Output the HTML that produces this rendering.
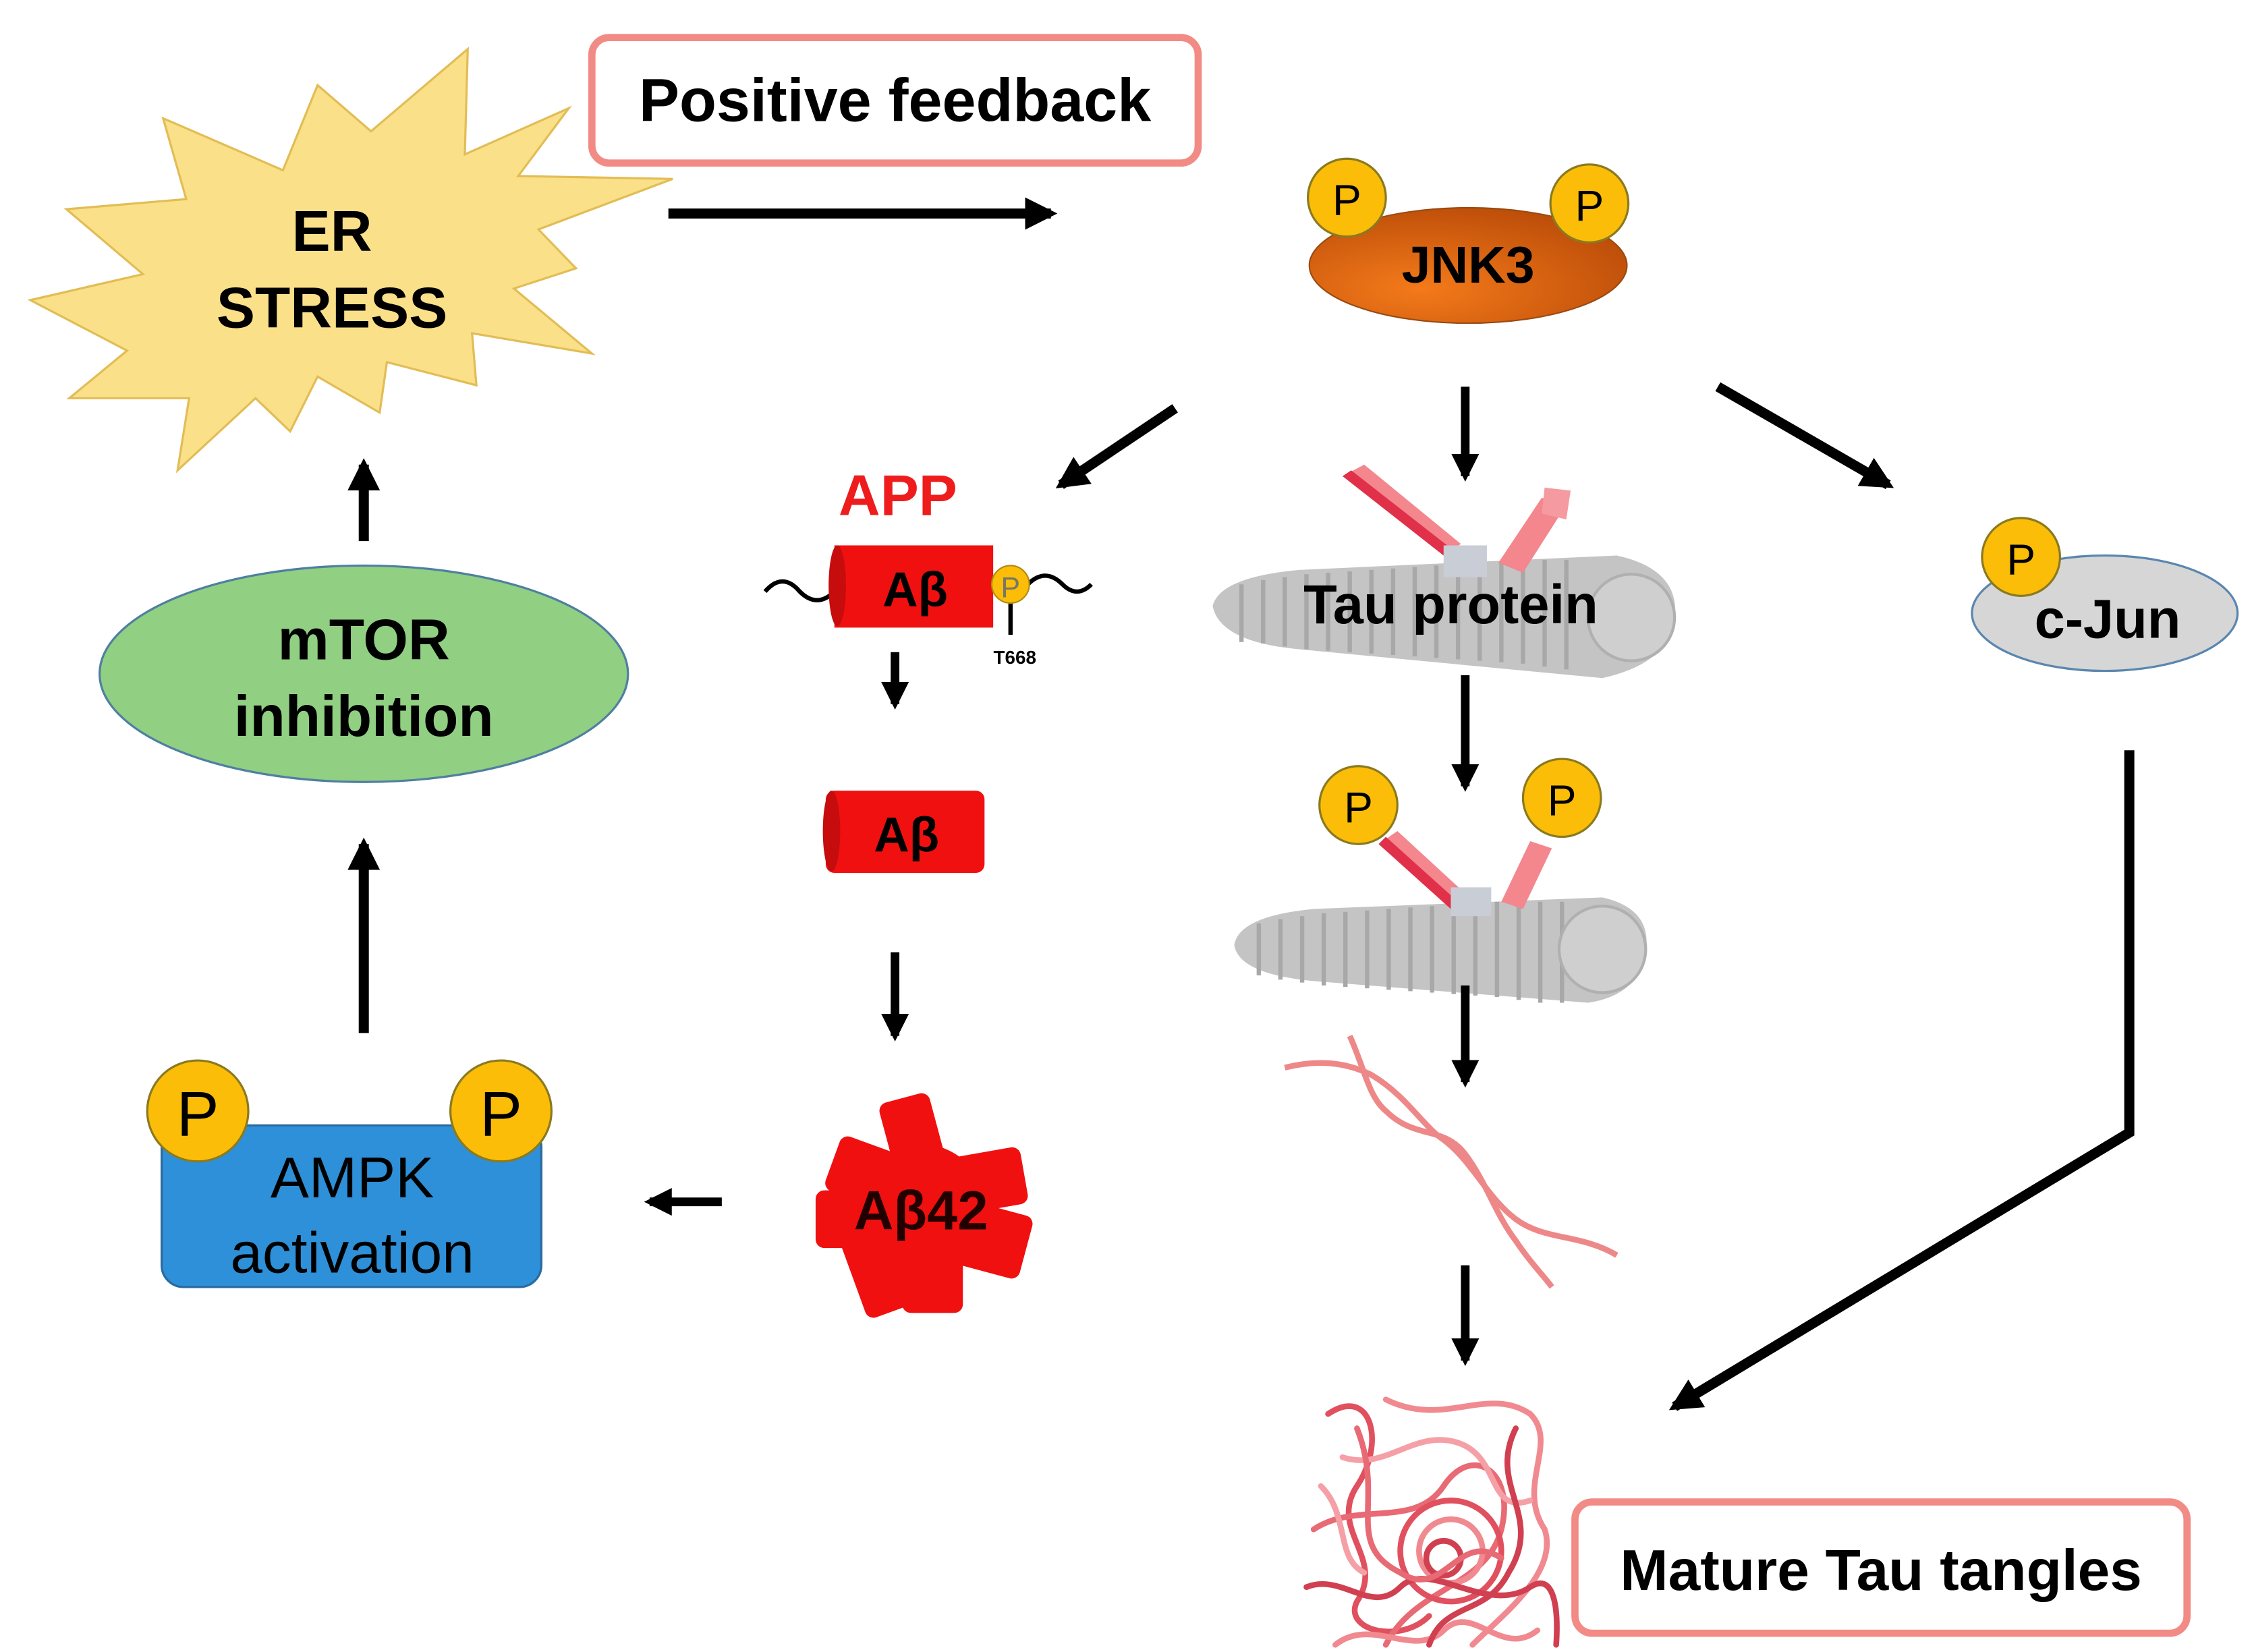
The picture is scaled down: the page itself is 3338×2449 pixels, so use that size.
<!DOCTYPE html>
<html><head><meta charset="utf-8"><style>html,body{margin:0;padding:0;background:#fff}svg{display:block}</style></head>
<body>
<svg width="3338" height="2449" viewBox="0 0 1560 1145" preserveAspectRatio="none" xmlns="http://www.w3.org/2000/svg" font-family="Liberation Sans, sans-serif">
<defs>
<marker id="ah" viewBox="0 0 10 10" refX="8" refY="5" markerWidth="3.2" markerHeight="3.2" orient="auto" markerUnits="strokeWidth"><path d="M0,0 L10,5 L0,10 z" fill="#000"/></marker>
<radialGradient id="jg" cx="0.35" cy="0.7" r="0.8"><stop offset="0" stop-color="#f47a1a"/><stop offset="1" stop-color="#b84a08"/></radialGradient>
</defs>
<rect width="1560" height="1145" fill="#fff"/>

<polygon points="220,59 257,91 324,34 322,107 394,75 359,122 466,124 373,159 399,186 356,200 410,245 327,231 330,267 268,251 263,286 220,261 201,299 177,276 123,326 131,276 48,276 88,243 21,208 99,190 46,145 129,138 113,82 196,118" fill="#fbe08a" stroke="#e2bd55" stroke-width="1.5"/>
<text x="230" y="174" font-size="40" font-weight="bold" text-anchor="middle">ER</text>
<text x="230" y="227" font-size="40" font-weight="bold" text-anchor="middle">STRESS</text>

<rect x="410" y="26" width="420" height="87" rx="12" fill="#fff" stroke="#f28b85" stroke-width="5"/>
<text x="620" y="84" font-size="42" font-weight="bold" text-anchor="middle">Positive feedback</text>
<line x1="463" y1="148" x2="728" y2="148" stroke="#000" stroke-width="7" marker-end="url(#ah)"/>

<ellipse cx="1017" cy="184" rx="110" ry="40" fill="url(#jg)" stroke="#9a4a10" stroke-width="1"/>
<text x="1017" y="196" font-size="36" font-weight="bold" text-anchor="middle">JNK3</text>
<ellipse cx="933" cy="137" rx="27" ry="27" fill="#fbbd08" stroke="#8a7a20" stroke-width="1.5"/>
<text x="933" y="149" font-size="30" text-anchor="middle">P</text>
<ellipse cx="1101" cy="141" rx="27" ry="27" fill="#fbbd08" stroke="#8a7a20" stroke-width="1.5"/>
<text x="1101" y="153" font-size="30" text-anchor="middle">P</text>

<line x1="814" y1="283" x2="735" y2="336" stroke="#000" stroke-width="7" marker-end="url(#ah)"/>
<line x1="1015" y1="268" x2="1015" y2="330" stroke="#000" stroke-width="6" marker-end="url(#ah)"/>
<line x1="1190" y1="268" x2="1308" y2="336" stroke="#000" stroke-width="7" marker-end="url(#ah)"/>

<text x="622" y="357" font-size="40" font-weight="bold" fill="#ee1c1c" text-anchor="middle">APP</text>
<path d="M530,410 q12,-14 24,0 q12,12 24,0" fill="none" stroke="#000" stroke-width="3"/>
<path d="M712,405 q12,-12 24,0 q10,10 20,0" fill="none" stroke="#000" stroke-width="3"/>
<rect x="578" y="378" width="110" height="57" fill="#f01010"/>
<ellipse cx="580" cy="406" rx="6" ry="28" fill="#c60c0c"/>
<text x="634" y="420" font-size="34" font-weight="bold" text-anchor="middle">Aβ</text>
<line x1="700" y1="410" x2="700" y2="440" stroke="#000" stroke-width="3"/>
<circle cx="700" cy="405" r="13" fill="#fbbd08" stroke="#b08a10" stroke-width="1"/>
<text x="700" y="414" font-size="20" text-anchor="middle" fill="#776">P</text>
<text x="703" y="460" font-size="13" font-weight="bold" text-anchor="middle">T668</text>
<line x1="620" y1="452" x2="620" y2="488" stroke="#000" stroke-width="6" marker-end="url(#ah)"/>

<rect x="572" y="548" width="110" height="57" rx="6" fill="#f01010"/>
<ellipse cx="576" cy="576" rx="6" ry="28" fill="#c60c0c"/>
<text x="628" y="590" font-size="34" font-weight="bold" text-anchor="middle">Aβ</text>
<line x1="620" y1="660" x2="620" y2="718" stroke="#000" stroke-width="6" marker-end="url(#ah)"/>

<g fill="#f01010">
<rect x="615" y="760" width="36" height="60" rx="6" transform="rotate(-15 633 790)"/>
<rect x="575" y="795" width="60" height="40" rx="6" transform="rotate(20 605 815)"/>
<rect x="640" y="800" width="70" height="40" rx="6" transform="rotate(-10 675 820)"/>
<rect x="565" y="825" width="60" height="40" rx="6"/>
<rect x="650" y="835" width="62" height="45" rx="6" transform="rotate(15 680 857)"/>
<rect x="590" y="850" width="40" height="60" rx="6" transform="rotate(-20 610 880)"/>
<rect x="625" y="855" width="42" height="55" rx="6"/>
<circle cx="638" cy="838" r="45"/>
</g>
<text x="638" y="852" font-size="38" font-weight="bold" text-anchor="middle" fill="#200">Aβ42</text>
<line x1="500" y1="833" x2="450" y2="833" stroke="#000" stroke-width="6" marker-end="url(#ah)"/>

<rect x="112" y="780" width="263" height="112" rx="15" fill="#2e90d8" stroke="#2a6aa0" stroke-width="1.5"/>
<text x="244" y="830" font-size="40" text-anchor="middle">AMPK</text>
<text x="244" y="882" font-size="40" text-anchor="middle">activation</text>
<circle cx="137" cy="770" r="35" fill="#fbbd08" stroke="#8a7a20" stroke-width="1.5"/>
<text x="137" y="787" font-size="44" text-anchor="middle">P</text>
<circle cx="347" cy="770" r="35" fill="#fbbd08" stroke="#8a7a20" stroke-width="1.5"/>
<text x="347" y="787" font-size="44" text-anchor="middle">P</text>
<line x1="252" y1="716" x2="252" y2="585" stroke="#000" stroke-width="7" marker-end="url(#ah)"/>

<ellipse cx="252" cy="467" rx="183" ry="75" fill="#91cf82" stroke="#4f7fa0" stroke-width="1.5"/>
<text x="252" y="457" font-size="40" font-weight="bold" text-anchor="middle">mTOR</text>
<text x="252" y="510" font-size="40" font-weight="bold" text-anchor="middle">inhibition</text>
<line x1="252" y1="375" x2="252" y2="322" stroke="#000" stroke-width="7" marker-end="url(#ah)"/>

<g>
<path d="M840,420 Q845,400 900,395 L1120,385 Q1165,395 1160,430 Q1155,460 1110,470 L900,450 Q845,445 840,420 z" fill="#c4c4c4"/>
<g stroke="#a8a8a8" stroke-width="3" fill="none">
<path d="M860,405 v40 M875,402 v44 M890,400 v48 M905,398 v52 M920,397 v54 M935,396 v56 M950,395 v58 M965,394 v60 M980,393 v62 M995,392 v64 M1010,391 v66 M1025,390 v68 M1040,389 v70 M1055,388 v72 M1070,388 v74 M1085,388 v76"/>
</g>
<circle cx="1130" cy="428" r="30" fill="#cfcfcf" stroke="#b0b0b0" stroke-width="2"/>
<path d="M930,330 L1000,385 L1012,377 L945,322 z" fill="#f4868e"/>
<path d="M930,330 L1000,385 L1005,380 L936,326 z" fill="#e0304a"/>
<rect x="1000" y="378" width="30" height="22" fill="#c8cdd6"/>
<path d="M1038,390 L1068,345 L1085,350 L1055,397 z" fill="#f4868e"/>
<path d="M1070,338 L1088,340 L1085,360 L1068,356 z" fill="#f49aa0"/>
</g>
<text x="1005" y="432" font-size="38" font-weight="bold" text-anchor="middle">Tau protein</text>
<line x1="1015" y1="468" x2="1015" y2="545" stroke="#000" stroke-width="6" marker-end="url(#ah)"/>

<g>
<path d="M855,655 Q858,635 910,630 L1110,622 Q1145,630 1140,660 Q1135,690 1100,695 L910,680 Q858,675 855,655 z" fill="#c4c4c4"/>
<g stroke="#a8a8a8" stroke-width="3" fill="none">
<path d="M872,640 v36 M887,637 v42 M902,635 v46 M917,633 v50 M932,632 v52 M947,631 v54 M962,630 v56 M977,629 v58 M992,628 v60 M1007,627 v62 M1022,626 v64 M1037,625 v66 M1052,625 v68 M1067,625 v70 M1082,625 v70"/>
</g>
<circle cx="1110" cy="658" r="30" fill="#cfcfcf" stroke="#b0b0b0" stroke-width="2"/>
<path d="M955,585 L1005,630 L1018,622 L968,576 z" fill="#f4868e"/>
<path d="M955,585 L1005,630 L1010,625 L960,580 z" fill="#e0304a"/>
<rect x="1005" y="615" width="28" height="20" fill="#c8cdd6"/>
<path d="M1040,625 L1060,583 L1075,588 L1055,630 z" fill="#f4868e"/>
</g>
<circle cx="941" cy="558" r="27" fill="#fbbd08" stroke="#8a7a20" stroke-width="1.5"/>
<text x="941" y="570" font-size="30" text-anchor="middle">P</text>
<circle cx="1082" cy="553" r="27" fill="#fbbd08" stroke="#8a7a20" stroke-width="1.5"/>
<text x="1082" y="565" font-size="30" text-anchor="middle">P</text>
<line x1="1015" y1="683" x2="1015" y2="750" stroke="#000" stroke-width="6" marker-end="url(#ah)"/>

<g fill="none" stroke="#ee8888" stroke-width="4">
<path d="M890,740 C910,735 930,735 950,745 C975,760 985,780 1000,790 C1020,805 1030,830 1050,845 C1070,860 1095,855 1120,870"/>
<path d="M935,718 C945,740 948,760 960,770 C980,790 1000,780 1015,800 C1030,820 1035,840 1050,860 C1060,875 1070,885 1075,892"/>
</g>
<line x1="1015" y1="877" x2="1015" y2="943" stroke="#000" stroke-width="6" marker-end="url(#ah)"/>

<g fill="none" stroke-width="4" stroke-linecap="round">
<path d="M920,980 C950,960 960,1000 940,1030 C920,1060 960,1080 940,1110 C930,1130 970,1140 990,1120" stroke="#e0505e"/>
<path d="M960,970 C1000,990 1030,960 1060,980 C1080,1000 1050,1030 1070,1060 C1080,1090 1040,1120 1020,1140" stroke="#f08a90"/>
<path d="M910,1060 C940,1040 980,1060 1000,1030 C1020,1000 1050,1020 1040,1060 C1030,1100 980,1100 960,1140" stroke="#e86a74"/>
<circle cx="1005" cy="1075" r="35" stroke="#e0505e"/>
<circle cx="1005" cy="1075" r="22" stroke="#f08a90"/>
<circle cx="1000" cy="1080" r="12" stroke="#d04050"/>
<path d="M905,1100 C930,1090 950,1120 970,1100 C990,1080 1030,1120 1060,1100 C1075,1090 1080,1110 1078,1140" stroke="#d04050"/>
<path d="M930,1010 C960,1020 980,990 1010,1000 C1040,1010 1030,1050 1060,1040" stroke="#f4a0a6"/>
<path d="M925,1140 C950,1120 980,1150 1000,1130 C1020,1110 1040,1150 1065,1130" stroke="#f08a90"/>
<path d="M940,990 C960,1040 930,1070 970,1090 C1000,1110 1010,1060 1040,1080" stroke="#e86a74"/>
<path d="M1050,990 C1030,1030 1070,1050 1045,1090 C1030,1120 1000,1110 990,1140" stroke="#d04050"/>
<path d="M915,1030 C935,1050 925,1080 945,1090" stroke="#f4a0a6"/>
</g>

<rect x="1091" y="1041" width="424" height="91" rx="12" fill="#fff" stroke="#f28b85" stroke-width="5"/>
<text x="1303" y="1102" font-size="40" font-weight="bold" text-anchor="middle">Mature Tau tangles</text>

<ellipse cx="1458" cy="425" rx="92" ry="40" fill="#d6d6d6" stroke="#5a86b0" stroke-width="1.5"/>
<text x="1460" y="442" font-size="38" font-weight="bold" text-anchor="middle">c-Jun</text>
<circle cx="1400" cy="386" r="27" fill="#fbbd08" stroke="#8a7a20" stroke-width="1.5"/>
<text x="1400" y="398" font-size="30" text-anchor="middle">P</text>
<polyline points="1475,520 1475,785 1160,975" fill="none" stroke="#000" stroke-width="7" marker-end="url(#ah)"/>
</svg>
</body></html>
